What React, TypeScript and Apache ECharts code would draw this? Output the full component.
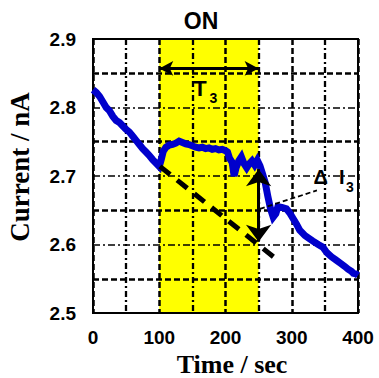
import React, { useEffect, useRef } from "react";
import * as echarts from "echarts";

// x axis: time (s), y axis: current (nA)
const xRange = [0, 400];
const yRange = [2.5, 2.9];

const currentTimes = [
  0, 5, 10, 15, 20, 25, 30, 35, 40, 45, 50, 55, 60, 65, 70, 75, 80, 85, 90, 95,
  100, 103, 106, 110, 115, 120, 125, 130, 135, 140, 145, 150, 155, 160, 165, 170,
  175, 180, 185, 190, 195, 200, 203, 206, 210, 213, 216, 220, 224, 228, 232, 236,
  240, 244, 248, 252, 256, 260, 264, 268, 272, 276, 279, 285, 292, 297, 302, 307,
  312, 320, 326, 332, 340, 347, 353, 360, 366, 373, 380, 385, 390, 393, 397, 400,
];
const currentValues = [
  2.826, 2.822, 2.816, 2.808, 2.8, 2.795, 2.787, 2.781, 2.778, 2.773, 2.768, 2.764,
  2.758, 2.752, 2.746, 2.74, 2.735, 2.73, 2.724, 2.719,
  2.714, 2.724, 2.736, 2.742, 2.745, 2.746, 2.748, 2.751, 2.749, 2.747, 2.746, 2.744,
  2.742, 2.741, 2.742, 2.74, 2.741, 2.739, 2.74, 2.738, 2.739, 2.737, 2.735, 2.726,
  2.72, 2.7, 2.712, 2.722, 2.728, 2.718, 2.712, 2.718, 2.722, 2.716, 2.723, 2.715,
  2.703, 2.69, 2.67, 2.652, 2.64, 2.645, 2.655, 2.654, 2.652, 2.646, 2.638, 2.63,
  2.621, 2.613, 2.609, 2.605, 2.6, 2.596, 2.588, 2.582, 2.578, 2.573, 2.568, 2.564,
  2.561, 2.558, 2.557, 2.555,
];

const trendTimes = [101, 279];
const trendValues = [2.714, 2.577];

const onPeriod = [100, 250];
const t3Level = 2.857;
const deltaTime = 250;
const deltaValues = [2.71, 2.604];
const leaderTimes = [252, 338];
const leaderValues = [2.652, 2.679];

const xMajor = 100;
const yMajor = 0.1;

export default function App() {
  const ref = useRef<HTMLDivElement>(null);

  useEffect(() => {
    if (!ref.current) return;
    const chart = echarts.init(ref.current, null, { renderer: "svg" });
    const tickFont = {
      fontFamily: "'Liberation Sans', Arial, sans-serif",
      fontWeight: "bold" as const,
      fontSize: 19,
      color: "#000",
    };
    const option = {
      animation: false,
      backgroundColor: "#fff",
      grid: {
        left: 93,
        right: 21,
        top: 39,
        bottom: 65,
        show: true,
        borderColor: "#000",
        borderWidth: 2,
        backgroundColor: "transparent",
      },
      xAxis: {
        type: "value",
        min: xRange[0],
        max: xRange[1],
        interval: xMajor,
        axisLine: { show: false },
        axisTick: { show: false },
        axisLabel: { ...tickFont, margin: 15 },
        splitLine: {
          show: true,
          lineStyle: { color: "#000", width: 2.5, type: [6, 3] },
        },
        minorTick: { show: false, splitNumber: 2 },
        minorSplitLine: {
          show: true,
          lineStyle: { color: "#000", width: 2.3, type: [6, 3, 2, 3] },
        },
      },
      yAxis: {
        type: "value",
        min: yRange[0],
        max: yRange[1],
        interval: yMajor,
        axisLine: { show: false },
        axisTick: { show: false },
        axisLabel: {
          ...tickFont,
          margin: 17,
          formatter: (v: number) => v.toFixed(1),
        },
        splitLine: {
          show: true,
          lineStyle: { color: "#000", width: 1.6, type: [7, 3, 2, 3] },
        },
        minorTick: { show: false, splitNumber: 2 },
        minorSplitLine: {
          show: true,
          lineStyle: { color: "#000", width: 2.5, type: [6, 3] },
        },
      },
      series: [
        {
          type: "line",
          data: [],
          z: -1,
          markArea: {
            silent: true,
            z: -1,
            itemStyle: { color: "#ffff00" },
            data: [[{ xAxis: onPeriod[0] }, { xAxis: onPeriod[1] }]],
          },
        },
        {
          type: "line",
          data: currentTimes.map((t, i) => [t, currentValues[i]]),
          symbol: "none",
          lineStyle: { color: "#0000cc", width: 7, join: "miter" },
          z: 3,
        },
        {
          type: "line",
          data: trendTimes.map((t, i) => [t, trendValues[i]]),
          symbol: "none",
          lineStyle: { color: "#000", width: 5, type: [13, 9] },
          z: 4,
        },
        {
          type: "line",
          data: leaderTimes.map((t, i) => [t, leaderValues[i]]),
          symbol: "none",
          lineStyle: { color: "#000", width: 1.8, type: [5, 3] },
          z: 4,
        },
        {
          type: "line",
          data: [],
          z: 5,
          markLine: {
            silent: true,
            z: 6,
            label: { show: false },
            symbol: ["arrow", "arrow"],
            data: [
              [
                { coord: [onPeriod[0], t3Level], symbolSize: [11, 14] },
                { coord: [onPeriod[1], t3Level], symbolSize: [11, 14] },
              ],
              [
                { coord: [deltaTime, deltaValues[0]], symbolSize: [19, 17] },
                { coord: [deltaTime, deltaValues[1]], symbolSize: [19, 17] },
              ],
            ],
            lineStyle: { color: "#000", width: 3, type: "solid" },
          },
        },
      ],
      graphic: [
        {
          type: "text",
          x: 201,
          y: 21,
          style: {
            text: "ON",
            font: "bold 23px 'Liberation Sans', Arial, sans-serif",
            fill: "#000",
            textAlign: "center",
            textVerticalAlign: "middle",
          },
        },
        {
          type: "text",
          x: 200,
          y: 88,
          style: {
            text: "T",
            font: "bold 22px 'Liberation Sans', Arial, sans-serif",
            fill: "#000",
            textAlign: "center",
            textVerticalAlign: "middle",
          },
        },
        {
          type: "text",
          x: 213.5,
          y: 98,
          style: {
            text: "3",
            font: "bold 14px 'Liberation Sans', Arial, sans-serif",
            fill: "#000",
            textAlign: "center",
            textVerticalAlign: "middle",
          },
        },
        {
          type: "text",
          x: 329,
          y: 177,
          style: {
            text: "Δ  I",
            font: "bold 20px 'Liberation Sans', Arial, sans-serif",
            fill: "#000",
            textAlign: "center",
            textVerticalAlign: "middle",
          },
        },
        {
          type: "text",
          x: 350,
          y: 187,
          style: {
            text: "3",
            font: "bold 14px 'Liberation Sans', Arial, sans-serif",
            fill: "#000",
            textAlign: "center",
            textVerticalAlign: "middle",
          },
        },
        {
          type: "text",
          x: 232,
          y: 364,
          style: {
            text: "Time / sec",
            font: "bold 26px 'Liberation Serif', 'Times New Roman', serif",
            fill: "#000",
            textAlign: "center",
            textVerticalAlign: "middle",
          },
        },
        {
          type: "text",
          x: 20,
          y: 167,
          rotation: Math.PI / 2,
          style: {
            text: "Current / nA",
            font: "bold 27px 'Liberation Serif', 'Times New Roman', serif",
            fill: "#000",
            textAlign: "center",
            textVerticalAlign: "middle",
          },
        },
      ],
    };
    chart.setOption(option as any);
    return () => chart.dispose();
  }, []);

  return (
    <div
      ref={ref}
      style={{ position: "fixed", left: 0, top: 0, width: 379, height: 378 }}
    />
  );
}
